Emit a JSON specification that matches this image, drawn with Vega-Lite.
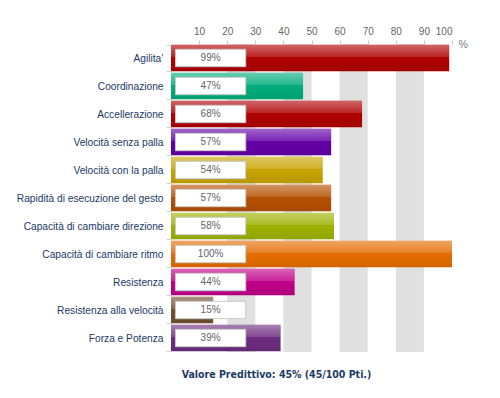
{
  "$schema": "https://vega.github.io/schema/vega-lite/v6.json",
  "autosize": "none",
  "width": 281,
  "height": 308,
  "padding": {"left": 171, "top": 44, "right": 48, "bottom": 46},
  "background": "#ffffff",
  "config": {"view": {"stroke": null}, "font": "Liberation Sans"},
  "resolve": {"axis": {"x": "independent"}},
  "title": {
    "text": "Valore Predittivo: 45% (45/100 Pti.)",
    "orient": "bottom",
    "anchor": "middle",
    "dx": -35,
    "offset": 18,
    "font": "DejaVu Sans Condensed",
    "fontSize": 10.5,
    "fontWeight": "bold",
    "color": "#1b3a66"
  },
  "datasets": {
    "skills": [
      {"skill": "Agilita’", "value": 99},
      {"skill": "Coordinazione", "value": 47},
      {"skill": "Accellerazione", "value": 68},
      {"skill": "Velocità senza palla", "value": 57},
      {"skill": "Velocità con la palla", "value": 54},
      {"skill": "Rapidità di esecuzione del gesto", "value": 57},
      {"skill": "Capacità di cambiare direzione", "value": 58},
      {"skill": "Capacità di cambiare ritmo", "value": 100},
      {"skill": "Resistenza", "value": 44},
      {"skill": "Resistenza alla velocità", "value": 15},
      {"skill": "Forza e Potenza", "value": 39}
    ],
    "bands": [
      {"from": 20, "to": 30},
      {"from": 40, "to": 50},
      {"from": 60, "to": 70},
      {"from": 80, "to": 90}
    ]
  },
  "layer": [
    {
      "data": {"name": "bands"},
      "mark": {"type": "rect", "color": "#e0e0e0"},
      "encoding": {
        "x": {
          "field": "from", "type": "quantitative",
          "scale": {"domain": [0, 100], "nice": false},
          "axis": {
            "orient": "top",
            "values": [10, 20, 30, 40, 50, 60, 70, 80, 90, 100],
            "labelOverlap": false,
            "grid": false,
            "domain": false,
            "tickColor": "#c8c8c8",
            "tickSize": 4,
            "labelColor": "#666666",
            "labelFontSize": 10,
            "labelPadding": 4,
            "title": "%",
            "titleFontWeight": "normal",
            "titleColor": "#777777",
            "titleFontSize": 10.5,
            "titleAngle": 0,
            "titleAlign": "left",
            "titleBaseline": "middle",
            "titleX": 287,
            "titleY": 0
          }
        },
        "x2": {"field": "to"}
      }
    },
    {
      "data": {"name": "skills"},
      "transform": [{"calculate": "datum.value + '%'", "as": "pct"}],
      "encoding": {
        "y": {
          "field": "skill", "type": "nominal", "sort": null,
          "scale": {"paddingInner": 0.06, "paddingOuter": 0.03},
          "axis": {
            "title": null,
            "domain": false,
            "tickBand": "extent",
            "tickColor": "#cfcfcf",
            "tickSize": 5,
            "labelPadding": 3,
            "labelColor": "#1b3a66",
            "labelFontSize": 10.2,
            "labelLimit": 200
          }
        }
      },
      "layer": [
        {
          "mark": {"type": "bar"},
          "encoding": {
            "x": {"field": "value", "type": "quantitative", "axis": null},
            "color": {
              "field": "skill", "type": "nominal", "legend": null,
              "scale": {
                "domain": ["Agilita’", "Coordinazione", "Accellerazione", "Velocità senza palla", "Velocità con la palla", "Rapidità di esecuzione del gesto", "Capacità di cambiare direzione", "Capacità di cambiare ritmo", "Resistenza", "Resistenza alla velocità", "Forza e Potenza"],
                "range": ["#b00000", "#00ad7b", "#b00000", "#6500a8", "#c8a400", "#b55000", "#9db200", "#e56c00", "#c00088", "#73502f", "#6e2c80"]
              }
            }
          }
        },
        {
          "mark": {
            "type": "bar",
            "color": {
              "gradient": "linear", "x1": 0, "y1": 0, "x2": 0, "y2": 1,
              "stops": [
                {"offset": 0, "color": "rgba(255,255,255,0.4)"},
                {"offset": 0.2, "color": "rgba(255,255,255,0.28)"},
                {"offset": 0.45, "color": "rgba(255,255,255,0.15)"},
                {"offset": 0.5, "color": "rgba(0,0,0,0)"},
                {"offset": 1, "color": "rgba(0,0,0,0.08)"}
              ]
            }
          },
          "encoding": {
            "x": {"field": "value", "type": "quantitative", "axis": null}
          }
        },
        {
          "mark": {"type": "bar", "color": "#ffffff", "stroke": "#c8c8c8", "strokeWidth": 1, "height": {"band": 0.66}},
          "encoding": {
            "x": {"datum": 1.6, "type": "quantitative", "axis": null},
            "x2": {"datum": 26.6}
          }
        },
        {
          "mark": {"type": "text", "color": "#666666", "fontSize": 10, "align": "center", "baseline": "middle"},
          "encoding": {
            "x": {"datum": 14.1, "type": "quantitative", "axis": null},
            "text": {"field": "pct"}
          }
        }
      ]
    }
  ]
}
